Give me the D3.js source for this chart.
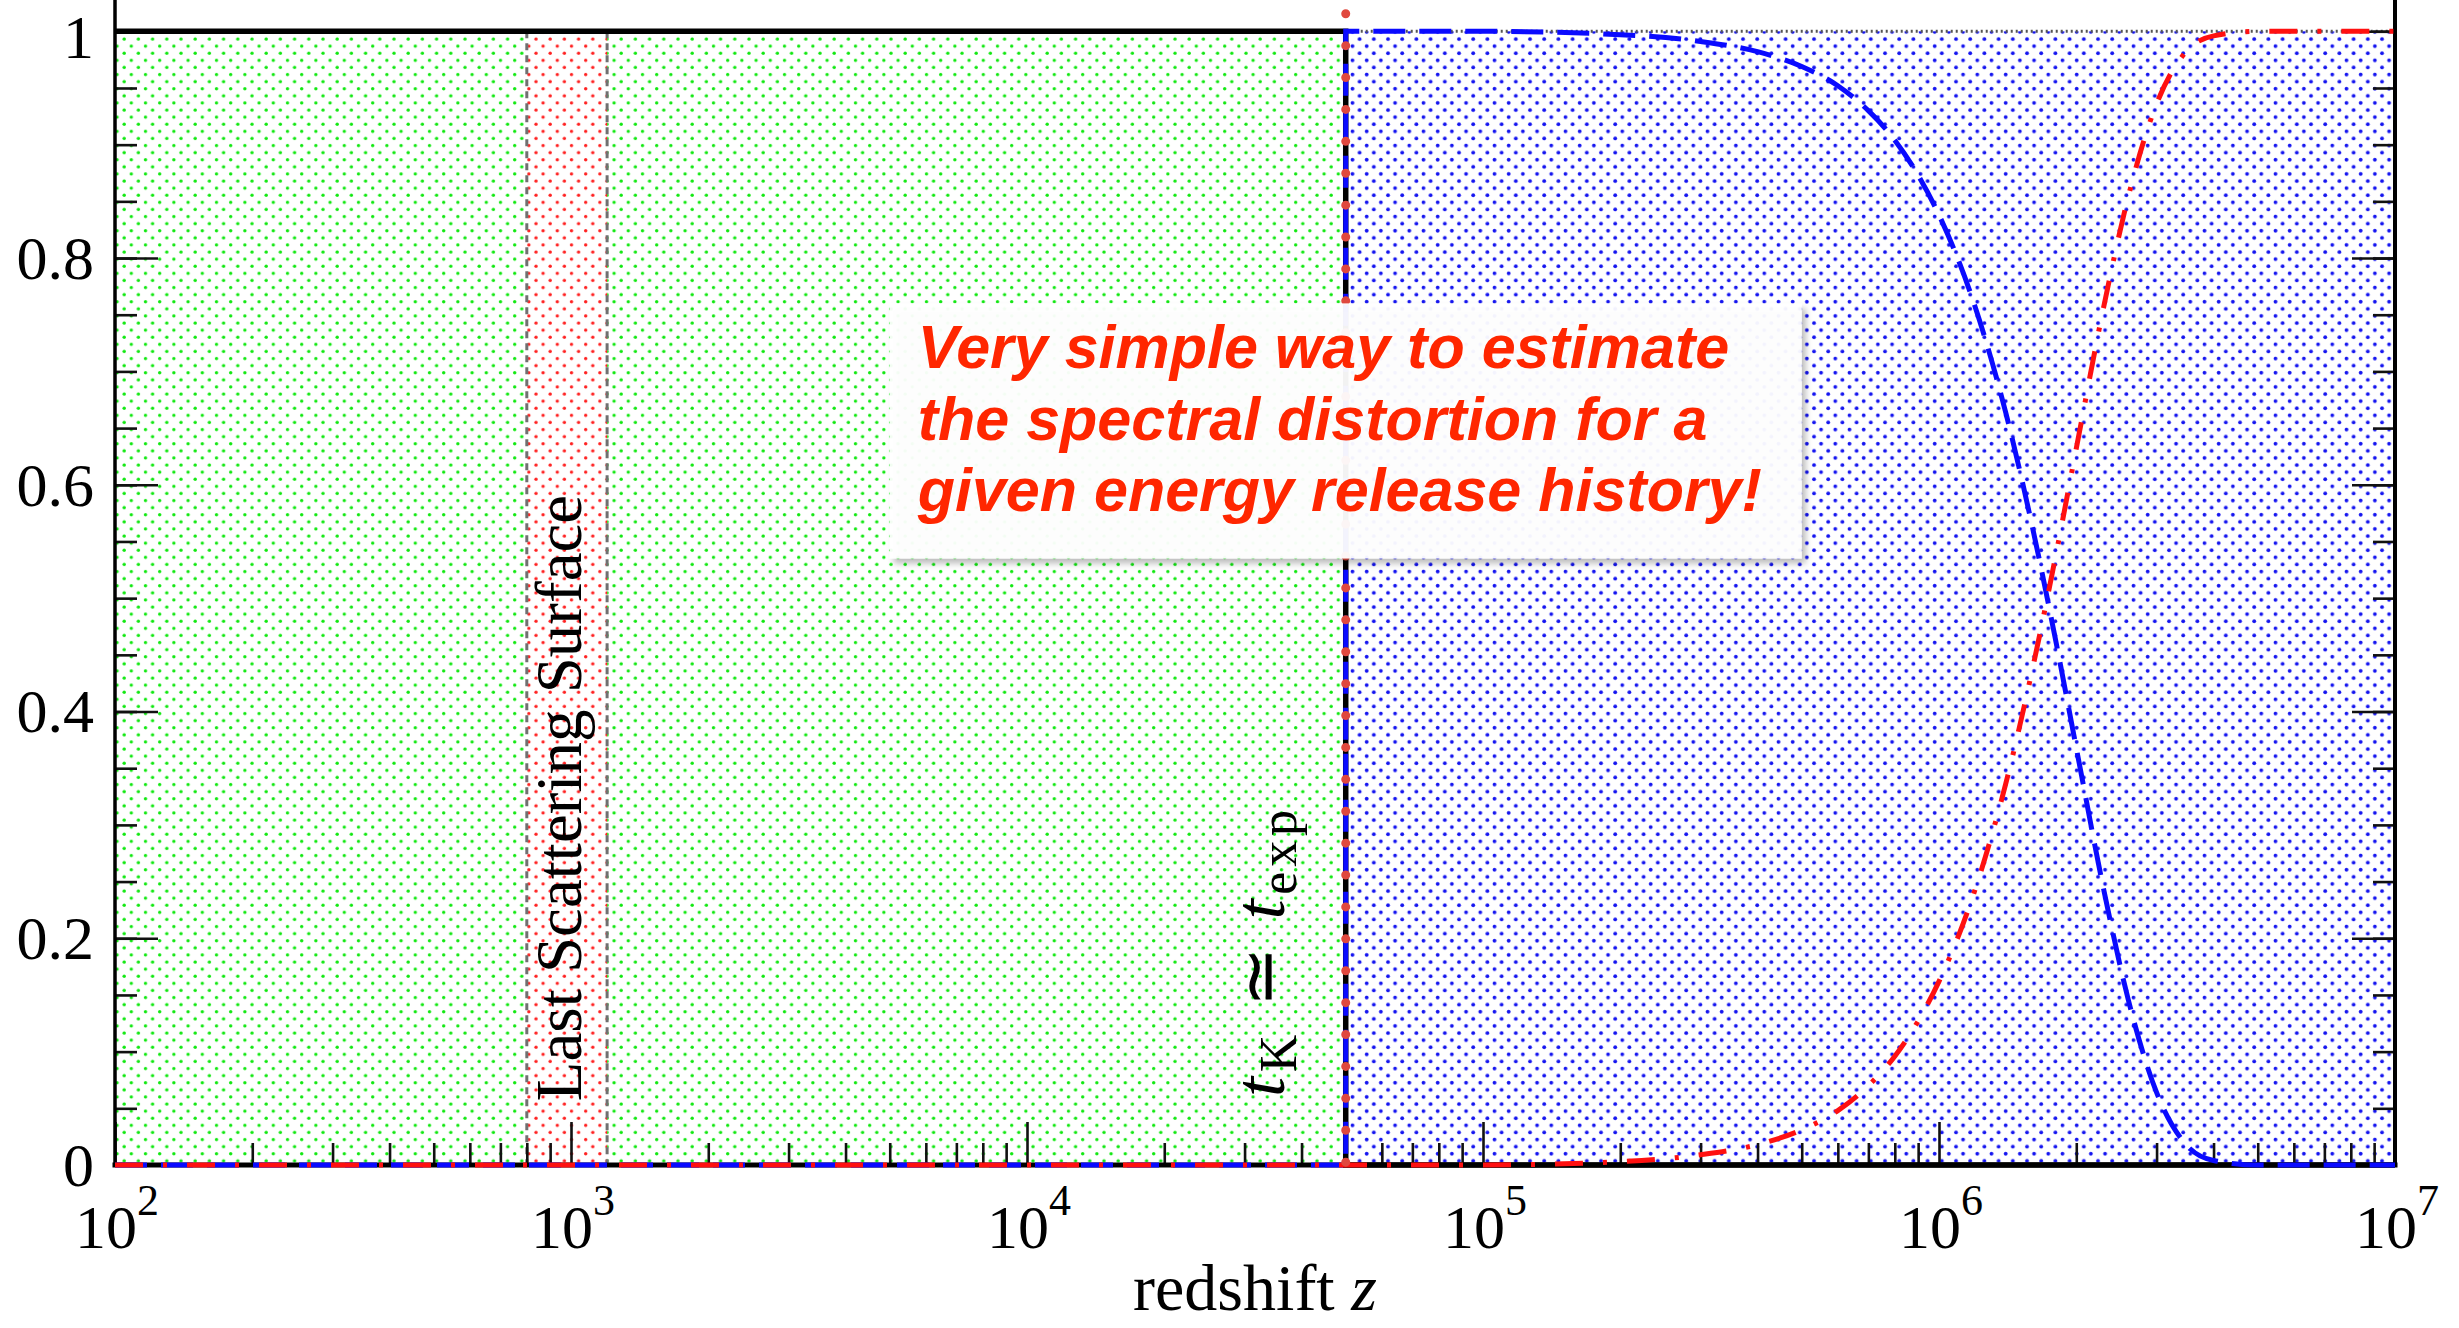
<!DOCTYPE html>
<html>
<head>
<meta charset="utf-8">
<script src="https://cdn.jsdelivr.net/npm/d3@7"></script>
<style>
  html, body { margin: 0; padding: 0; background: #fff; }
  svg { display: block; }
</style>
</head>
<body>
<svg id="chart" width="2459" height="1328"></svg>
<script>
// ---- data -------------------------------------------------------------
// redshift samples for the mu-era curves
const zGrid = [5e4, 1e5, 2e5, 3e5, 4e5, 5e5, 6e5, 7e5, 8e5, 9e5, 1e6, 1.2e6, 1.4e6,
               1.6e6, 1.8e6, 2e6, 2.3e6, 2.6e6, 3e6, 3.5e6, 4e6, 5e6, 1e7];
// blue dashed: mu-type branching
const muBranch = [1, 1, 0.997, 0.991, 0.982, 0.969, 0.952, 0.930, 0.904, 0.873, 0.838, 0.757,
                  0.664, 0.564, 0.464, 0.368, 0.242, 0.146, 0.064, 0.017, 0.004, 0, 0];
// red dash-dot: thermalised (temperature) branching
const tempBranch = [0, 0, 0.003, 0.009, 0.018, 0.031, 0.048, 0.070, 0.096, 0.127, 0.162, 0.243,
                    0.336, 0.436, 0.536, 0.632, 0.758, 0.854, 0.936, 0.983, 0.996, 1, 1];
// black solid: y-type branching (step at the transition)
const zStep = [1e2, 5e4, 5e4, 1e7];
const yStep = [1, 1, 0, 0];

const zStart = 1e2;
const zEnd = 1e7;
const zTransition = 5e4;          // t_K ~ t_exp
const lssBand = [800, 1200];      // last scattering surface
const noteBox = { z0: 5e3, z1: 5e5, v0: 0.535, v1: 0.76 };

const xMajorTicks = [1e2, 1e3, 1e4, 1e5, 1e6, 1e7];
const xTickExponents = ["2", "3", "4", "5", "6", "7"];
const yTicks = [0, 0.2, 0.4, 0.6, 0.8, 1];
const yTickLabels = ["0", "0.2", "0.4", "0.6", "0.8", "1"];
const noteLines = ["Very simple way to estimate",
                   "the spectral distortion for a",
                   "given energy release history!"];

// ---- scales -----------------------------------------------------------
const svg = d3.select("#chart");
const x = d3.scaleLog().domain([zStart, zEnd]).range([115, 2395]);
const y = d3.scaleLinear().domain([0, 1]).range([1165, 31.3]);

const serif = "'Liberation Serif', 'Times New Roman', Times, serif";

svg.append("rect").attr("width", 2459).attr("height", 1328).attr("fill", "#fff");

// ---- dot hatching patterns ------------------------------------------------
const defs = svg.append("defs");
function dotPattern(id, color, r) {
  const p = defs.append("pattern").attr("id", id)
    .attr("patternUnits", "userSpaceOnUse")
    .attr("width", 14.2).attr("height", 14.2);
  p.append("circle").attr("cx", 3.5).attr("cy", 3.5).attr("r", r).attr("fill", color);
  p.append("circle").attr("cx", 10.6).attr("cy", 10.6).attr("r", r).attr("fill", color);
}
dotPattern("dotsGreen", "#10e810", 1.7);
dotPattern("dotsBlue", "#1414f0", 1.9);
dotPattern("dotsRed", "#ff2020", 1.7);

const shadow = defs.append("filter").attr("id", "boxShadow")
  .attr("x", "-5%").attr("y", "-5%").attr("width", "112%").attr("height", "115%");
shadow.append("feDropShadow").attr("dx", 4).attr("dy", 5)
  .attr("stdDeviation", 3).attr("flood-color", "#000").attr("flood-opacity", 0.28);

// ---- shaded eras ----------------------------------------------------------
const regions = svg.append("g");
regions.append("rect")
  .attr("x", x(zStart)).attr("y", y(1))
  .attr("width", x(zTransition) - x(zStart)).attr("height", y(0) - y(1))
  .attr("fill", "url(#dotsGreen)");
regions.append("rect")
  .attr("x", x(zTransition)).attr("y", y(1))
  .attr("width", x(zEnd) - x(zTransition)).attr("height", y(0) - y(1))
  .attr("fill", "url(#dotsBlue)");

// last scattering band
regions.append("rect")
  .attr("x", x(lssBand[0])).attr("y", y(1))
  .attr("width", x(lssBand[1]) - x(lssBand[0])).attr("height", y(0) - y(1))
  .attr("fill", "#fff");
regions.append("rect")
  .attr("x", x(lssBand[0])).attr("y", y(1))
  .attr("width", x(lssBand[1]) - x(lssBand[0])).attr("height", y(0) - y(1))
  .attr("fill", "url(#dotsRed)");
lssBand.forEach(z => {
  regions.append("line")
    .attr("x1", x(z)).attr("x2", x(z)).attr("y1", y(1)).attr("y2", y(0))
    .attr("stroke", "#707070").attr("stroke-width", 3)
    .attr("stroke-dasharray", "7,5");
});

svg.append("text")
  .attr("transform", `translate(${(x(lssBand[0]) + x(lssBand[1])) / 2 + 14},798) rotate(-90)`)
  .attr("text-anchor", "middle")
  .attr("font-family", serif).attr("font-size", 65).attr("fill", "#000")
  .text("Last Scattering Surface");

// upper edge of the mu era
svg.append("line")
  .attr("x1", x(zTransition)).attr("x2", x(zEnd)).attr("y1", y(1)).attr("y2", y(1))
  .attr("stroke", "#555").attr("stroke-width", 3).attr("stroke-dasharray", "2,3");

// ---- axes frame -------------------------------------------------------------
const axisStyle = g => {
  g.select(".domain").remove();
  g.selectAll(".tick line").attr("stroke", "#111").attr("stroke-width", 2.6);
};

const minorX = [];
for (let d = zStart; d < zEnd; d *= 10) for (let k = 2; k <= 9; k++) minorX.push(k * d);
const minorY = d3.range(0, 1.0001, 0.05);

svg.append("g").attr("transform", `translate(0,${y(0)})`)
  .call(d3.axisBottom(x).tickValues(minorX).tickSize(-22).tickSizeOuter(0).tickFormat(""))
  .call(axisStyle);
svg.append("g").attr("transform", `translate(0,${y(0)})`)
  .call(d3.axisBottom(x).tickValues(xMajorTicks).tickSize(-43).tickSizeOuter(0).tickFormat(""))
  .call(axisStyle);

svg.append("g").attr("transform", `translate(${x(zStart)},0)`)
  .call(d3.axisLeft(y).tickValues(minorY).tickSize(-22).tickSizeOuter(0).tickFormat(""))
  .call(axisStyle);
const leftAxis = svg.append("g").attr("transform", `translate(${x(zStart)},0)`)
  .call(d3.axisLeft(y).tickValues(yTicks).tickSize(-43).tickSizeOuter(0).tickPadding(21)
        .tickFormat((d, i) => yTickLabels[i]))
  .call(axisStyle);
leftAxis.selectAll(".tick text")
  .attr("font-family", serif).attr("font-size", 62).attr("fill", "#000")
  .attr("dy", d => d === 1 ? "0.42em" : "0.33em");

svg.append("g").attr("transform", `translate(${x(zEnd)},0)`)
  .call(d3.axisRight(y).tickValues(minorY).tickSize(-22).tickSizeOuter(0).tickFormat(""))
  .call(axisStyle);
svg.append("g").attr("transform", `translate(${x(zEnd)},0)`)
  .call(d3.axisRight(y).tickValues(yTicks).tickSize(-43).tickSizeOuter(0).tickFormat(""))
  .call(axisStyle);

// frame lines (the top of the frame lies above the visible area)
const frame = svg.append("g").attr("stroke", "#000").attr("stroke-linecap", "square");
frame.append("line").attr("x1", x(zStart)).attr("x2", x(zStart))
  .attr("y1", y(0)).attr("y2", y(1.03)).attr("stroke-width", 3.5);
frame.append("line").attr("x1", x(zEnd)).attr("x2", x(zEnd))
  .attr("y1", y(0)).attr("y2", y(1.03)).attr("stroke-width", 4);
frame.append("line").attr("x1", x(zStart)).attr("x2", x(zEnd))
  .attr("y1", y(0)).attr("y2", y(0)).attr("stroke-width", 5);

// x tick labels: 10^n
const xLabels = svg.append("g").attr("font-family", serif).attr("fill", "#000");
xMajorTicks.forEach((t, i) => {
  const txt = xLabels.append("text")
    .attr("x", x(t) + 2).attr("y", 1248)
    .attr("text-anchor", "middle").attr("font-size", 62);
  txt.append("tspan").text("10");
  txt.append("tspan").attr("dy", -33).attr("font-size", 44).text(xTickExponents[i]);
});

const xTitle = svg.append("text")
  .attr("x", (x(zStart) + x(zEnd)) / 2).attr("y", 1310)
  .attr("text-anchor", "middle")
  .attr("font-family", serif).attr("font-size", 66).attr("fill", "#000");
xTitle.append("tspan").text("redshift ");
xTitle.append("tspan").attr("font-style", "italic").text("z");

// ---- curves --------------------------------------------------------------
const lineLinear = d3.line().x(d => x(d[0])).y(d => y(d[1]));
const lineSmooth = d3.line().x(d => x(d[0])).y(d => y(d[1])).curve(d3.curveMonotoneX);

// black step
svg.append("path")
  .attr("d", lineLinear(zStep.map((z, i) => [z, yStep[i]])))
  .attr("fill", "none").attr("stroke", "#000").attr("stroke-width", 5.5);

// blue dashed: zero before the transition, then jumps to the mu-era curve
const muPts = zGrid.map((z, i) => [z, muBranch[i]]);
const bluePath = lineLinear([[zStart, 0], [zTransition, 0]]) +
  lineSmooth(muPts).replace(/^M/, "L");
svg.append("path")
  .attr("d", bluePath)
  .attr("fill", "none").attr("stroke", "#0a0aff").attr("stroke-width", 5)
  .attr("stroke-dasharray", "32,14");

// red dash-dot
const tPts = [[zStart, 0]].concat(zGrid.map((z, i) => [z, tempBranch[i]]));
svg.append("path")
  .attr("d", lineSmooth(tPts))
  .attr("fill", "none").attr("stroke", "#ff1010").attr("stroke-width", 5)
  .attr("stroke-dasharray", "28,20,4,20");

// red dotted marker of the transition redshift
svg.append("line")
  .attr("x1", x(zTransition)).attr("x2", x(zTransition))
  .attr("y1", y(1.0155)).attr("y2", y(0))
  .attr("stroke", "#e0483e").attr("stroke-width", 9)
  .attr("stroke-linecap", "round").attr("stroke-dasharray", "0,31.9");

// t_K ~ t_exp label
const tk = svg.append("text")
  .attr("transform", `translate(${x(zTransition) - 62},1097) rotate(-90)`)
  .attr("font-family", serif).attr("fill", "#000")
  .attr("textLength", 287).attr("lengthAdjust", "spacing");
tk.append("tspan").attr("font-size", 72).attr("font-style", "italic").text("t");
tk.append("tspan").attr("font-size", 52).attr("dy", 12).text("K");
tk.append("tspan").attr("font-size", 72).attr("dy", -12).text(" \u2243 ");
tk.append("tspan").attr("font-size", 72).attr("font-style", "italic").text("t");
tk.append("tspan").attr("font-size", 52).attr("dy", 12).text("exp");

// ---- note box ------------------------------------------------------------
const bx0 = x(noteBox.z0), bx1 = x(noteBox.z1);
const by0 = y(noteBox.v1), by1 = y(noteBox.v0);
const note = svg.append("g");
note.append("rect")
  .attr("x", bx0).attr("y", by0).attr("width", bx1 - bx0).attr("height", by1 - by0)
  .attr("fill", "#fff").attr("fill-opacity", 0.94)
  .attr("filter", "url(#boxShadow)");
const noteText = note.append("text")
  .attr("font-family", "'Liberation Sans', Arial, Helvetica, sans-serif")
  .attr("font-weight", "bold").attr("font-style", "italic")
  .attr("font-size", 61).attr("fill", "#ff2600");
noteLines.forEach((s, i) => {
  noteText.append("tspan").attr("x", bx0 + 28).attr("y", by0 + 65 + i * 71.5).text(s);
});
</script>
</body>
</html>
